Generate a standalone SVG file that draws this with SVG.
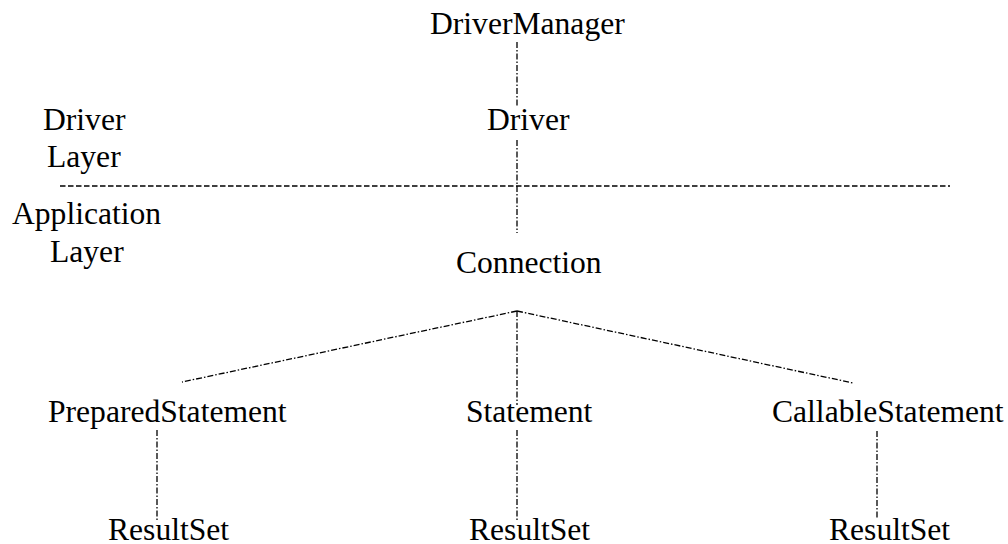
<svg xmlns="http://www.w3.org/2000/svg" width="1008" height="544" viewBox="0 0 1008 544">
<style>
  text { font-family: "Liberation Serif", "Times New Roman", Times, serif; font-size: 31.6px; fill: #000; }
  .dd { fill: none; stroke: #000; stroke-width: 1.3; stroke-dasharray: 6 2 1.5 2; }
  .dash { fill: none; stroke: #000; stroke-width: 1.3; stroke-dasharray: 5.5 2.5; }
</style>
<rect width="1008" height="544" fill="#fff"/>
<g id="connectors">
  <line class="dash" x1="60" y1="186" x2="950" y2="186"/>
  <line class="dd" x1="517" y1="42" x2="517" y2="106"/>
  <line class="dd" x1="517" y1="140" x2="517" y2="233"/>
  <line class="dd" x1="517" y1="311" x2="517" y2="405"/>
  <line class="dd" x1="517" y1="430" x2="517" y2="520"/>
  <line class="dd" x1="517" y1="311" x2="182" y2="382"/>
  <line class="dd" x1="517" y1="311" x2="853" y2="383"/>
  <line class="dd" x1="157" y1="430" x2="157" y2="520"/>
  <line class="dd" x1="877" y1="431" x2="877" y2="518"/>
</g>
<g id="layer-labels">
  <text x="43" y="130">Driver</text>
  <text x="47" y="167">Layer</text>
  <text x="12" y="224">Application</text>
  <text x="50" y="262">Layer</text>
</g>
<g id="DriverManager"><text x="430" y="34">DriverManager</text></g>
<g id="Driver"><text x="487" y="130">Driver</text></g>
<g id="Connection"><text x="456" y="273">Connection</text></g>
<g id="PreparedStatement"><text x="48" y="422">PreparedStatement</text></g>
<g id="Statement"><text x="466" y="422">Statement</text></g>
<g id="CallableStatement"><text x="772" y="422">CallableStatement</text></g>
<g id="ResultSet1"><text x="108" y="540">ResultSet</text></g>
<g id="ResultSet2"><text x="469" y="540">ResultSet</text></g>
<g id="ResultSet3"><text x="829" y="540">ResultSet</text></g>
</svg>
